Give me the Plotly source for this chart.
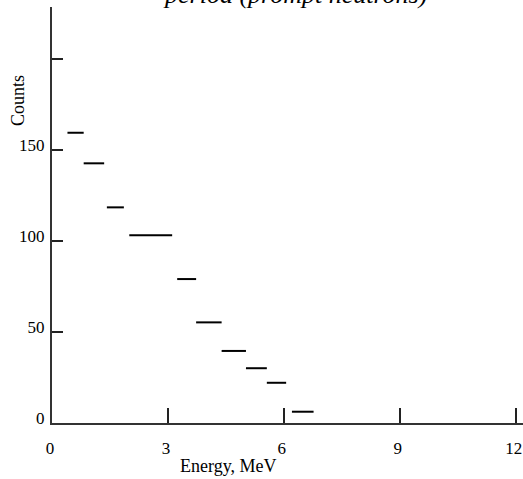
import plotly.graph_objects as go

# Histogram bins (MeV) and counts
bin_start = [0.40, 0.82, 1.42, 2.00, 3.24, 3.73, 4.39, 5.02, 5.56, 6.21]
bin_end   = [0.82, 1.35, 1.86, 3.11, 3.73, 4.39, 5.02, 5.56, 6.06, 6.77]
counts    = [159.5, 142.7, 118.5, 103.2, 79.1, 55.3, 39.6, 30.1, 22.1, 6.2]

x_ticks = [0, 3, 6, 9, 12]
y_ticks = [0, 50, 100, 150, 200]
y_tick_text = ["0", "50", "100", "150", ""]

title_text = "period (prompt neutrons)"
x_title = "Energy, MeV"
y_title = "Counts"

xs, ys = [], []
for a, b, c in zip(bin_start, bin_end, counts):
    xs += [a, b, None]
    ys += [c, c, None]

FONT = "'Liberation Serif', 'Times New Roman', Times, serif"

fig = go.Figure()
fig.add_trace(go.Scatter(x=xs, y=ys, mode="lines",
                         line=dict(color="black", width=2),
                         hoverinfo="skip", showlegend=False))

fig.update_layout(
    width=523, height=479,
    margin=dict(l=52, r=0, t=7, b=56, autoexpand=False),
    paper_bgcolor="white", plot_bgcolor="white",
    font=dict(family=FONT, size=17, color="black"),
    showlegend=False,
)
fig.update_xaxes(
    range=[0, 12.19], tickvals=x_ticks, ticktext=[str(v) for v in x_ticks],
    ticks="inside", ticklen=15, tickwidth=1.5, tickcolor="#222",
    showline=True, linecolor="#333", linewidth=2,
    showgrid=False, zeroline=False, automargin=False,
    ticklabelstandoff=9, ticklabelshift=-2,
    tickfont=dict(family=FONT, size=17, color="black"),
)
fig.update_yaxes(
    range=[0, 228.6], tickvals=y_ticks, ticktext=y_tick_text,
    ticks="inside", ticklen=11, tickwidth=1.5, tickcolor="#222",
    showline=True, linecolor="#333", linewidth=2,
    showgrid=False, zeroline=False, automargin=False,
    ticklabelstandoff=2, ticklabelshift=-5,
    tickfont=dict(family=FONT, size=17, color="black"),
)

fig.add_annotation(text=x_title, xref="paper", yref="paper",
                   x=(228 - 52) / 471, y=0, yanchor="middle", xanchor="center",
                   yshift=-43, showarrow=False,
                   font=dict(family=FONT, size=18, color="black"))
fig.add_annotation(text=y_title, xref="paper", yref="paper",
                   x=0, y=(423 - 101) / 416, xanchor="center", yanchor="middle",
                   xshift=-34, textangle=-90, showarrow=False,
                   font=dict(family=FONT, size=18, color="black"))
fig.add_annotation(text="<i>" + title_text + "</i>", xref="paper", yref="paper",
                   x=(294.5 - 52) / 471, y=1, xanchor="center", yanchor="bottom",
                   yshift=-4, showarrow=False,
                   font=dict(family=FONT, size=26, color="black"))

fig.write_html("out.html",
               config={"displayModeBar": False},
               post_script="document.body.style.margin='0';document.body.style.overflow='hidden';")
